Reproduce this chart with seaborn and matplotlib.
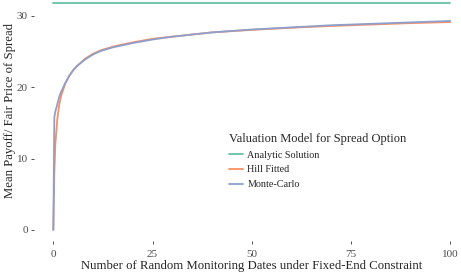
import matplotlib
matplotlib.use("Agg")
import matplotlib.pyplot as plt
import seaborn as sns
import pandas as pd
from matplotlib.lines import Line2D

# Data
n_dates = [0, 0.25, 0.5, 1, 1.5, 2, 3, 4, 5, 6, 8, 10, 12, 15, 20, 25, 30, 40, 50, 60, 70, 80, 90, 100]
monte_carlo = [0, 15.8, 16.6, 17.6, 18.7, 19.4, 20.6, 21.6, 22.4, 23.0, 23.9, 24.6, 25.1, 25.6, 26.2,
               26.7, 27.1, 27.7, 28.1, 28.4, 28.7, 28.9, 29.1, 29.3]
hill_fitted = [0, 8.0, 12.0, 15.5, 17.6, 18.9, 20.5, 21.6, 22.4, 23.0, 24.0, 24.7, 25.2, 25.7, 26.3,
               26.8, 27.1, 27.7, 28.05, 28.35, 28.6, 28.8, 29.0, 29.15]
analytic_x = [0, 100]
analytic = [31.8, 31.8]

series_names = ["Analytic Solution", "Hill Fitted", "Monte-Carlo"]
colors = ["#66C2A5", "#FC8D62", "#8DA0CB"]
x_ticks = [0, 25, 50, 75, 100]
y_ticks = [0, 10, 20, 30]

df = pd.concat([
    pd.DataFrame({"x": analytic_x, "y": analytic, "model": series_names[0]}),
    pd.DataFrame({"x": n_dates, "y": hill_fitted, "model": series_names[1]}),
    pd.DataFrame({"x": n_dates, "y": monte_carlo, "model": series_names[2]}),
], ignore_index=True)

sns.set_style("white")
plt.rcParams["font.family"] = ["Liberation Serif", "DejaVu Serif"]

W, H = 461, 274
fig = plt.figure(figsize=(W / 100, H / 100), dpi=100)
left, right, top, bottom = 33.5, 470.0, -8.2, 241.3
ax = fig.add_axes([left / W, 1 - bottom / H, (right - left) / W, (bottom - top) / H])

sns.lineplot(data=df, x="x", y="y", hue="model", hue_order=series_names,
             palette=dict(zip(series_names, colors)), linewidth=1.3, ax=ax,
             sort=False, estimator=None, legend=False)

ax.set_xlim(-5, 105)
ax.set_ylim(-1.59, 33.39)
ax.set_xticks(x_ticks)
ax.set_yticks(y_ticks)
for s in ax.spines.values():
    s.set_visible(False)
ax.tick_params(axis="both", which="both", length=2.2, width=0.6, color="#333333",
               labelcolor="#4D4D4D", labelsize=8, pad=2)
ax.tick_params(axis="x", bottom=True, direction="out", pad=4)
ax.tick_params(axis="y", left=True, direction="out")
ax.set_xlabel("Number of Random Monitoring Dates under Fixed-End Constraint", fontsize=9.2, labelpad=1)
ax.set_ylabel("Mean Payoff/ Fair Price of Spread", fontsize=9.2)
ax.yaxis.set_label_coords((4 - left) / (right - left), (bottom - 110) / (bottom - top))
ax.yaxis.label.set_va("top")
ax.grid(False)
ax.set_facecolor("white")

handles = [Line2D([0], [0], color=c, lw=1.3) for c in colors]
leg = ax.legend(handles, series_names, title="Valuation Model for Spread Option",
                loc="upper left", bbox_to_anchor=((225 - left) / (right - left), (bottom - 129) / (bottom - top)),
                frameon=False, fontsize=7.3, title_fontsize=9.0, handlelength=1.4,
                handletextpad=0.4, labelspacing=0.55, borderaxespad=0)
leg._legend_box.align = "left"

fig.savefig("out.png", dpi=100)
